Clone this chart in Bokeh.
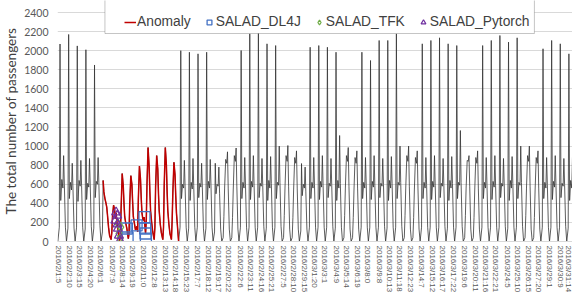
from datetime import datetime
from bokeh.plotting import figure
from bokeh.models import FixedTicker, Legend, LegendItem, BoxAnnotation
from bokeh.embed import file_html
from bokeh.resources import INLINE

# ---------------- data ----------------
tick_labels = ["2016/2/1:5", "2016/2/2:10", "2016/2/3:15", "2016/2/4:20", "2016/2/6:1", "2016/2/7:9",
               "2016/2/8:14", "2016/2/9:19", "2016/2/11:0", "2016/2/12:8", "2016/2/13:13", "2016/2/14:18",
               "2016/2/15:23", "2016/2/17:7", "2016/2/18:12", "2016/2/19:17", "2016/2/20:22", "2016/2/22:6",
               "2016/2/23:11", "2016/2/24:16", "2016/2/25:21", "2016/2/27:5", "2016/2/28:10", "2016/2/29:15",
               "2016/3/1:20", "2016/3/3:1", "2016/3/4:9", "2016/3/5:14", "2016/3/6:19", "2016/3/8:0",
               "2016/3/9:8", "2016/3/10:13", "2016/3/11:18", "2016/3/12:23", "2016/3/14:7", "2016/3/15:12",
               "2016/3/16:17", "2016/3/17:22", "2016/3/19:6", "2016/3/20:11", "2016/3/21:16", "2016/3/22:21",
               "2016/3/24:5", "2016/3/25:10", "2016/3/26:15", "2016/3/27:20", "2016/3/29:1", "2016/3/30:9",
               "2016/3/31:14"]

day_dates = ["2016/2/1", "2016/2/2", "2016/2/3", "2016/2/4", "2016/2/5", "2016/2/6", "2016/2/7",
             "2016/2/8", "2016/2/9", "2016/2/10", "2016/2/11", "2016/2/12", "2016/2/13", "2016/2/14",
             "2016/2/15", "2016/2/16", "2016/2/17", "2016/2/18", "2016/2/19", "2016/2/20", "2016/2/21",
             "2016/2/22", "2016/2/23", "2016/2/24", "2016/2/25", "2016/2/26", "2016/2/27", "2016/2/28",
             "2016/2/29", "2016/3/1", "2016/3/2", "2016/3/3", "2016/3/4", "2016/3/5", "2016/3/6",
             "2016/3/7", "2016/3/8", "2016/3/9", "2016/3/10", "2016/3/11", "2016/3/12", "2016/3/13",
             "2016/3/14", "2016/3/15", "2016/3/16", "2016/3/17", "2016/3/18", "2016/3/19", "2016/3/20",
             "2016/3/21", "2016/3/22", "2016/3/23", "2016/3/24", "2016/3/25", "2016/3/26", "2016/3/27",
             "2016/3/28", "2016/3/29", "2016/3/30", "2016/3/31"]

# hours of the day at which each day's passenger counts are sampled
day_hours = [2, 6, 8, 10, 13, 16, 18, 20, 23]

passengers = [
    [0, 150, 2070, 430, 650, 560, 900, 600, 150],   # 2/1
    [0, 140, 2170, 450, 620, 540, 820, 560, 140],   # 2/2
    [0, 150, 2050, 420, 640, 580, 850, 590, 150],   # 2/3
    [0, 130, 2010, 440, 610, 570, 870, 600, 160],   # 2/4
    [0, 140, 1850, 460, 630, 600, 880, 620, 170],   # 2/5
    [0, 100, 640, 520, 450, 400, 360, 280, 150],    # 2/6
    [60, 20, 90, 260, 380, 330, 240, 300, 180],     # 2/7
    [110, 10, 80, 350, 712, 580, 400, 260, 190],    # 2/8
    [136, 30, 80, 400, 690, 600, 420, 260, 190],    # 2/9
    [120, 160, 100, 450, 790, 650, 450, 300, 220],  # 2/10
    [255, 84, 220, 600, 985, 780, 520, 320, 200],   # 2/11
    [100, 20, 150, 580, 900, 760, 500, 320, 180],   # 2/12
    [90, 20, 150, 600, 985, 800, 520, 320, 180],    # 2/13
    [80, 20, 220, 520, 830, 700, 480, 300, 150],    # 2/14
    [0, 150, 2000, 450, 600, 560, 850, 580, 150],   # 2/15
    [0, 140, 1984, 430, 620, 550, 870, 590, 150],   # 2/16
    [0, 150, 1967, 460, 610, 570, 820, 570, 140],   # 2/17
    [0, 140, 1984, 440, 630, 560, 860, 600, 150],   # 2/18
    [0, 100, 820, 500, 600, 580, 780, 500, 130],    # 2/19
    [0, 40, 260, 560, 860, 820, 940, 560, 130],     # 2/20
    [0, 40, 250, 540, 900, 840, 980, 580, 130],     # 2/21
    [0, 150, 2002, 450, 620, 560, 880, 600, 150],   # 2/22
    [0, 150, 2177, 440, 630, 570, 900, 590, 150],   # 2/23
    [0, 150, 2190, 460, 610, 580, 870, 600, 160],   # 2/24
    [0, 140, 2072, 430, 640, 560, 890, 610, 150],   # 2/25
    [0, 150, 2054, 450, 620, 590, 1000, 620, 160],  # 2/26
    [0, 40, 270, 560, 900, 840, 1006, 580, 130],    # 2/27
    [0, 40, 250, 540, 880, 820, 950, 560, 130],     # 2/28
    [0, 110, 817, 480, 600, 560, 780, 520, 130],    # 2/29
    [0, 150, 2036, 450, 620, 560, 880, 600, 150],   # 3/1
    [0, 150, 2054, 440, 630, 570, 900, 590, 150],   # 3/2
    [0, 150, 2036, 460, 610, 580, 870, 600, 160],   # 3/3
    [0, 140, 1984, 430, 640, 560, 1111, 610, 150],  # 3/4
    [0, 40, 270, 560, 900, 840, 985, 580, 130],     # 3/5
    [0, 40, 250, 540, 880, 820, 950, 560, 130],     # 3/6
    [0, 150, 1984, 450, 620, 560, 880, 600, 150],   # 3/7
    [0, 150, 1897, 440, 630, 570, 900, 590, 150],   # 3/8
    [0, 150, 2107, 460, 610, 580, 870, 600, 160],   # 3/9
    [0, 140, 2107, 430, 640, 560, 890, 610, 150],   # 3/10
    [0, 150, 2177, 450, 620, 590, 1000, 620, 160],  # 3/11
    [0, 40, 270, 560, 900, 840, 1000, 580, 130],    # 3/12
    [0, 40, 250, 540, 880, 820, 950, 560, 130],     # 3/13
    [0, 150, 2072, 450, 620, 560, 880, 600, 150],   # 3/14
    [0, 150, 2107, 440, 630, 570, 900, 590, 150],   # 3/15
    [0, 150, 2135, 460, 610, 580, 870, 600, 160],   # 3/16
    [0, 140, 2072, 430, 640, 560, 890, 610, 150],   # 3/17
    [0, 150, 2054, 450, 620, 590, 1163, 620, 160],  # 3/18
    [0, 40, 270, 560, 850, 840, 900, 580, 130],     # 3/19
    [0, 40, 250, 540, 880, 820, 950, 560, 130],     # 3/20
    [0, 150, 2054, 450, 620, 560, 880, 600, 150],   # 3/21
    [0, 150, 2107, 440, 630, 570, 900, 590, 150],   # 3/22
    [0, 150, 2159, 460, 610, 580, 870, 600, 160],   # 3/23
    [0, 140, 2090, 430, 640, 560, 890, 610, 150],   # 3/24
    [0, 150, 2135, 450, 620, 590, 1000, 620, 160],  # 3/25
    [0, 40, 270, 560, 900, 840, 1000, 580, 130],    # 3/26
    [0, 40, 250, 540, 880, 820, 950, 560, 130],     # 3/27
    [0, 150, 2020, 450, 620, 560, 880, 600, 150],   # 3/28
    [0, 150, 2107, 440, 630, 570, 900, 590, 150],   # 3/29
    [0, 150, 2072, 460, 610, 580, 870, 600, 160],   # 3/30
    [0, 140, 1967, 430, 640, 560, 890, 610, 150],   # 3/31
]

anomaly_start = "2016/2/6:8"
anomaly_end = "2016/2/15:2"

dl4j_times = ["2016/2/9:2", "2016/2/9:4", "2016/2/10:5", "2016/2/11:3", "2016/2/11:5",
              "2016/2/11:6", "2016/2/11:7"]
dl4j_values = [136, 42, 168, 255, 136, 84, 31]
tfk_times = ["2016/2/8:1", "2016/2/8:4", "2016/2/8:7", "2016/2/8:9"]
tfk_values = [190, 84, 30, 150]
pytorch_times = ["2016/2/7:18", "2016/2/7:20", "2016/2/7:23", "2016/2/8:0", "2016/2/8:1",
                 "2016/2/8:4", "2016/2/8:7"]
pytorch_values = [220, 307, 272, 180, 136, 63, 10]

y_ticks = [0, 200, 400, 600, 800, 1000, 1200, 1400, 1600, 1800, 2000, 2200, 2400]

# ---------------- helpers ----------------
ORIGIN = datetime(2016, 2, 1, 0)


def hour_index(stamp):
    date_part, hour_part = stamp.split(":")
    y, m, d = (int(v) for v in date_part.split("/"))
    return (datetime(y, m, d, int(hour_part)) - ORIGIN).total_seconds() / 3600.0


xs, ys = [], []
for date, row in zip(day_dates, passengers):
    for h, v in zip(day_hours, row):
        xs.append(hour_index(f"{date}:{h}"))
        ys.append(v)

a0, a1 = hour_index(anomaly_start), hour_index(anomaly_end)
rx = [x for x in xs if a0 <= x <= a1]
ry = [y for x, y in zip(xs, ys) if a0 <= x <= a1]

# ---------------- figure ----------------
FONT = "Lato"
LFONT = "Liberation Sans"
GREY = "#595959"

p = figure(width=572, height=296, x_range=(1, 1434), y_range=(0, 2526),
           output_backend="svg", toolbar_location=None,
           min_border_left=56, min_border_right=0, min_border_top=0, min_border_bottom=55)
p.outline_line_color = None
p.background_fill_color = "white"
p.border_fill_color = "white"

p.line(xs, ys, line_color="#333333", line_width=0.8)
anom = p.line(rx, ry, line_color="#c00000", line_width=1.5)
dl4j = p.scatter([hour_index(t) for t in dl4j_times], dl4j_values, marker="square", size=11,
                 fill_color=None, line_color="#4472c4", line_width=1.3)
tfk = p.scatter([hour_index(t) for t in tfk_times], tfk_values, marker="diamond", size=9,
                fill_color=None, line_color="#70ad47", line_width=1.2)
pyt = p.scatter([hour_index(t) for t in pytorch_times], pytorch_values, marker="triangle", size=9,
                fill_color=None, line_color="#7030a0", line_width=1.2)

# axes
p.yaxis.ticker = FixedTicker(ticks=y_ticks)
p.yaxis.axis_label = "The total number of passengers"
p.yaxis.axis_label_text_font = FONT
p.yaxis.axis_label_text_font_size = "13.5px"
p.yaxis.axis_label_text_font_style = "normal"
p.yaxis.axis_label_text_color = "#404040"
p.yaxis.axis_label_standoff = 2
p.yaxis.major_label_text_font = FONT
p.yaxis.major_label_text_font_size = "10.5px"
p.yaxis.major_label_text_color = GREY
p.yaxis.major_label_standoff = 9
p.yaxis.axis_line_color = None
p.yaxis.major_tick_line_color = None
p.yaxis.minor_tick_line_color = None
p.yaxis.major_tick_out = 0
p.yaxis.major_tick_in = 0

tick_pos = [hour_index(t) for t in tick_labels]
p.xaxis.ticker = FixedTicker(ticks=tick_pos)
p.xaxis.major_label_overrides = {hour_index(t): t for t in tick_labels}
p.xaxis.major_label_orientation = "vertical"
p.xaxis.major_label_text_font = LFONT
p.xaxis.major_label_text_font_size = "8px"
p.xaxis.major_label_text_color = GREY
p.xaxis.major_label_standoff = 4
p.xaxis.axis_line_color = "#d9d9d9"
p.xaxis.major_tick_line_color = None
p.xaxis.minor_tick_line_color = None
p.xaxis.major_tick_out = 0
p.xaxis.major_tick_in = 0

p.xgrid.grid_line_color = None
p.ygrid.grid_line_color = "#d9d9d9"
p.ygrid.ticker = FixedTicker(ticks=y_ticks)

# legend box (white, covers the top of the spikes)
box = BoxAnnotation(left=133, right=1328, bottom=2180, top=2700,
                    fill_color="white", fill_alpha=1.0, line_color="#404040", line_width=1)
p.add_layout(box)

legend = Legend(items=[LegendItem(label="Anomaly", renderers=[anom]),
                       LegendItem(label="SALAD_DL4J", renderers=[dl4j]),
                       LegendItem(label="SALAD_TFK", renderers=[tfk]),
                       LegendItem(label="SALAD_Pytorch", renderers=[pyt])],
                orientation="horizontal", location=(67, 212),
                border_line_color=None, background_fill_alpha=0,
                label_text_font=LFONT, label_text_font_size="13.8px", label_text_color="#404040",
                glyph_width=12, glyph_height=12, label_standoff=1, spacing=12, padding=0, margin=0)
p.add_layout(legend)

open("out.html", "w").write(file_html(p, INLINE))
